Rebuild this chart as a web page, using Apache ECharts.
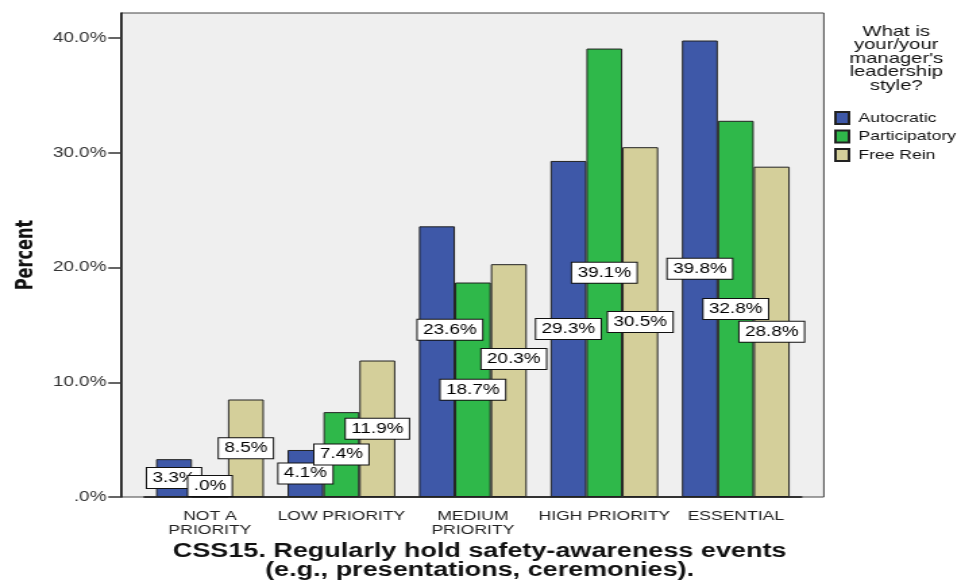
<!DOCTYPE html>
<html>
<head>
<meta charset="utf-8">
<script src="https://cdn.jsdelivr.net/npm/echarts@6/dist/echarts.min.js"></script>
<style>
  html, body { margin: 0; padding: 0; background: #ffffff; overflow: hidden; }
  #chart { width: 712px; height: 582px; transform: scaleX(1.3497); transform-origin: 0 0; }
</style>
</head>
<body>
<div id="chart"></div>
<script>
// ---- Data ----
const categories = ['NOT A\nPRIORITY', 'LOW PRIORITY', 'MEDIUM\nPRIORITY', 'HIGH PRIORITY', 'ESSENTIAL'];
const seriesNames = ['Autocratic', 'Participatory', 'Free Rein'];
const autocratic = [3.3, 4.1, 23.6, 29.3, 39.8];
const participatory = [0.0, 7.4, 18.7, 39.1, 32.8];
const freeRein = [8.5, 11.9, 20.3, 30.5, 28.8];
const yTickValues = [0, 10, 20, 30, 40];

// ---- Style ----
const colors = ['#3e58a8', '#2fb84a', '#d4cf9a'];
// label nudges (style only) : [seriesIndex]-[categoryIndex] -> [dx, dy]
const labelNudge = {
  '0-2': [9.6, -32],
  '2-2': [3.7, -21.5],
  '1-0': [0, -11]
};
const FONT = "'Liberation Sans', Arial, sans-serif";

function fmt(v) { return v === 0 ? '.0%' : v.toFixed(1) + '%'; }

function buildSeries(name, values, si) {
  return {
    name: name,
    type: 'bar',
    barGap: '0%',
    barCategoryGap: '18%',
    itemStyle: { color: colors[si], borderColor: '#222', borderWidth: 1 },
    label: {
      show: true,
      position: 'inside',
      formatter: p => fmt(p.value),
      color: '#000',
      fontFamily: FONT,
      fontSize: 14,
      lineHeight: 15,
      backgroundColor: '#ffffff',
      borderColor: '#111',
      borderWidth: 1,
      padding: [3, 4, 2, 4]
    },
    emphasis: { disabled: true },
    data: values.map((v, ci) => {
      const n = labelNudge[si + '-' + ci];
      return n ? { value: v, label: { offset: n } } : { value: v };
    })
  };
}

const chart = echarts.init(document.getElementById('chart'));
chart.setOption({
  animation: false,
  graphic: [{
    type: 'rect',
    z: -10,
    shape: { x: 89.6, y: 13, width: 520.8, height: 484 },
    style: { fill: '#efefef', stroke: '#444', lineWidth: 1 }
  }],
  title: {
    text: 'What is\nyour/your\nmanager\'s\nleadership\nstyle?',
    left: 659,
    top: 20,
    textAlign: 'center',
    textStyle: { fontFamily: FONT, fontSize: 15, fontWeight: 'normal', color: '#111', lineHeight: 13.5 }
  },
  legend: {
    orient: 'vertical',
    left: 613,
    top: 106,
    itemWidth: 10,
    itemHeight: 12,
    itemGap: 4.5,
    icon: 'rect',
    selectedMode: false,
    textStyle: { fontFamily: FONT, fontSize: 13, color: '#111', padding: [0, 0, 0, 2] },
    data: seriesNames
  },
  grid: { left: 106.85, width: 487, top: 13, height: 484, outerBoundsMode: 'none', containLabel: false },
  xAxis: {
    type: 'category',
    data: categories,
    axisLine: { lineStyle: { color: '#111', width: 1.5 } },
    axisTick: { alignWithLabel: true, length: 7, lineStyle: { color: '#333', width: 1.5 } },
    axisLabel: { interval: 0, margin: 12, fontFamily: FONT, fontSize: 13, lineHeight: 14, color: '#222' },
    name: 'CSS15. Regularly hold safety-awareness events\n(e.g., presentations, ceremonies).',
    nameLocation: 'middle',
    nameGap: 45,
    nameTextStyle: { fontFamily: FONT, fontSize: 20, fontWeight: 'bold', lineHeight: 19, color: '#111', padding: [0, 0, 0, 10] }
  },
  yAxis: {
    type: 'value',
    min: 0,
    max: 42.2,
    interval: 10,
    offset: 17,
    splitLine: { show: false },
    axisLine: { show: true, lineStyle: { color: '#111', width: 1.5 } },
    axisTick: { show: true, length: 9.6, customValues: yTickValues, lineStyle: { color: '#333', width: 1.5 } },
    axisLabel: { customValues: yTickValues, margin: 11, fontFamily: FONT, fontSize: 14, color: '#333', formatter: v => fmt(v) },
    name: 'Percent',
    nameLocation: 'middle',
    nameGap: 62,
    nameTextStyle: { fontFamily: "'Liberation Sans Narrow', 'DejaVu Sans Condensed', Arial, sans-serif", fontSize: 18, fontWeight: 'bold', color: '#111' }
  },
  series: [
    buildSeries(seriesNames[0], autocratic, 0),
    buildSeries(seriesNames[1], participatory, 1),
    buildSeries(seriesNames[2], freeRein, 2)
  ]
});
</script>
</body>
</html>
